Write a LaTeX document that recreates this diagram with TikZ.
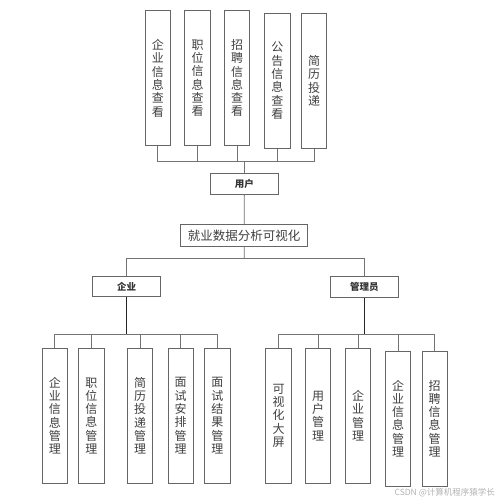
\documentclass[tikz,border=0pt]{standalone}
\usepackage{fontspec}
\setmainfont{Noto Sans CJK SC}
\begin{document}
\begin{tikzpicture}[x=1pt,y=-1pt,
  vbox/.style={draw=black!60,line width=0.9pt,minimum width=25.4pt,minimum height=135pt,inner sep=0pt,align=center,text=black!75,font=\fontsize{12}{13.3}\selectfont},
  lbl/.style={draw=black!60,line width=0.9pt,minimum width=68.5pt,minimum height=20.7pt,inner sep=0pt,font=\fontsize{9.5}{11}\selectfont\bfseries,text=black!80},
  conn/.style={draw=black!55,line width=0.9pt},
  trunk/.style={draw=black!85,line width=1.2pt}]
\useasboundingbox (0,0) rectangle (499,503);
\fill[white] (0,0) rectangle (499,503);
% top row
\node[vbox] (t1) at (157.8,78.2) {企\\业\\信\\息\\查\\看};
\node[vbox] (t2) at (197.5,78.2) {职\\位\\信\\息\\查\\看};
\node[vbox] (t3) at (237.2,78.2) {招\\聘\\信\\息\\查\\看};
\node[vbox] (t4) at (277.3,80.8) {公\\告\\信\\息\\查\\看};
\node[vbox] (t5) at (314.0,80.8) {简\\历\\投\\递};
\coordinate (tb) at (244.3,161.7);
\node[lbl] (user) at (244.3,183.8) {用户};
\node[draw=black!60,line width=0.9pt,minimum width=127pt,minimum height=22.4pt,inner sep=0pt,font=\fontsize{12.5}{14}\selectfont,text=black!75] (main) at (244.2,235.5) {就业数据分析可视化};
\coordinate (ms) at (244.3,258.3);
\node[lbl] (qiye) at (126.5,286.5) {企业};
\node[lbl] (admin) at (364.3,286.7) {管理员};
\coordinate (lb) at (126.5,334);
\coordinate (rb) at (364.3,334);
% left row
\node[vbox] (l1) at (54.8,415.8) {企\\业\\信\\息\\管\\理};
\node[vbox] (l2) at (91.3,415.8) {职\\位\\信\\息\\管\\理};
\node[vbox] (l3) at (140.0,415.8) {简\\历\\投\\递\\管\\理};
\node[vbox] (l4) at (180.7,415.8) {面\\试\\安\\排\\管\\理};
\node[vbox] (l5) at (217.3,415.8) {面\\试\\结\\果\\管\\理};
% right row
\node[vbox] (r1) at (278.5,415.8) {可\\视\\化\\大\\屏};
\node[vbox] (r2) at (318.2,415.8) {用\\户\\管\\理};
\node[vbox] (r3) at (358.0,415.8) {企\\业\\管\\理};
\node[vbox] (r4) at (398.2,418.5) {企\\业\\信\\息\\管\\理};
\node[vbox] (r5) at (434.7,418.5) {招\\聘\\信\\息\\管\\理};
% connectors
\foreach \n in {t1,t2,t3,t4,t5} \draw[conn] (\n.south) |- (tb);
\draw[conn] (tb) -- (user.north);
\draw[conn] (user.south) -- (main.north);
\draw[conn] (main.south) -- (ms);
\draw[conn] (qiye.north) |- (ms);
\draw[conn] (admin.north) |- (ms);
\draw[trunk] (qiye.south) -- (lb);
\draw[trunk] (admin.south) -- (rb);
\foreach \n in {l1,l2,l3,l4,l5} \draw[conn] (\n.north) |- (lb);
\foreach \n in {r1,r2,r3,r4,r5} \draw[conn] (\n.north) |- (rb);
\node[anchor=east,inner sep=0pt,text=black!30,font=\fontsize{8.5}{10}\selectfont] (wm) at (495,493) {CSDN @计算机程序猿学长};
\end{tikzpicture}
\end{document}
